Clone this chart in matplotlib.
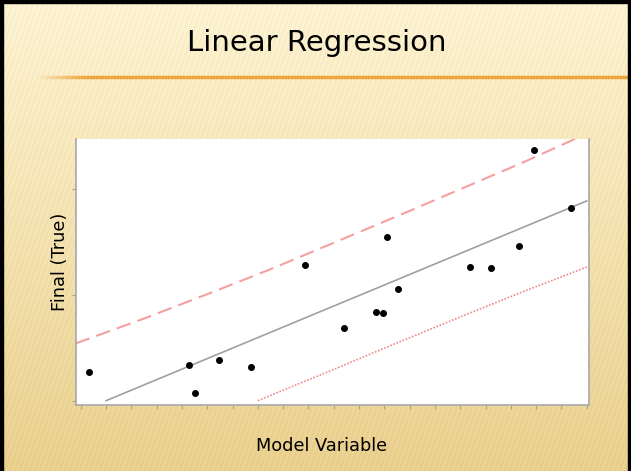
import numpy as np
import matplotlib
matplotlib.use("Agg")
import matplotlib.pyplot as plt
from matplotlib.collections import LineCollection

# data (arbitrary units, ticks unlabeled)
model_x = [0.33, 4.27, 4.52, 5.47, 6.73, 8.85, 10.39, 11.68, 11.94, 12.09, 12.53, 15.38, 16.21, 17.34, 17.92, 19.39]
final_y = [2.71, 3.40, 0.75, 3.87, 3.21, 12.83, 6.86, 8.34, 8.25, 15.42, 10.51, 12.61, 12.52, 14.62, 23.65, 18.18]

fit_x = [1.0, 20.0]
fit_y = [0.0, 18.85]

upper_x = [-0.2, 2.5, 5, 7.5, 10, 12.5, 15, 17.5, 20.1]
upper_y = [5.4, 7.75, 10.05, 12.4, 14.9, 17.4, 19.95, 22.5, 25.3]

lower_x = [7.0, 10, 12.5, 15, 17.5, 20.1]
lower_y = [0.0, 2.95, 5.45, 7.9, 10.3, 12.7]

x_ticks = list(range(0, 21))
y_ticks = [0, 10, 20]

W, H = 631, 471
fig = plt.figure(figsize=(W / 100, H / 100), dpi=100)

# slide background
bg = fig.add_axes([0, 0, 1, 1])
bg.set_xlim(0, W)
bg.set_ylim(H, 0)
bg.axis("off")
yy, xx = np.mgrid[0:H, 0:W]
t = (yy / H)[..., None]
top = np.array([253, 243, 210]) / 255
bot = np.array([234, 208, 142]) / 255
img = top * (1 - t) + bot * t
stripes = 0.014 * np.sin(2 * np.pi * (xx + 0.35 * yy) / 5.0)[..., None]
img = np.clip(img + stripes, 0, 1)
bg.imshow(img, extent=[0, W, H, 0], aspect="auto", zorder=0)

# orange rule under the title
xs = np.linspace(35, W, 200)
segs = [[(xs[i], 77), (xs[i + 1], 77)] for i in range(len(xs) - 1)]
alphas = np.clip((xs[:-1] - 35) / 50, 0, 1)
cols = [(0.93, 0.63, 0.2, a) for a in alphas]
bg.add_collection(LineCollection(segs, colors=cols, linewidths=2.5, zorder=1))

# dark frame
bg.add_patch(plt.Rectangle((0, 0), W, 3, color="black", zorder=2))
bg.add_patch(plt.Rectangle((0, 0), 3, H, color="black", zorder=2))
bg.add_patch(plt.Rectangle((W - 3, 0), 3, H, color="black", zorder=2))

bg.text(317, 43, "Linear Regression", fontsize=21, ha="center", va="center", color="black")
bg.text(322, 446, "Model Variable", fontsize=12.8, ha="center", va="center", color="black")
bg.text(60, 262, "Final (True)", fontsize=12.8, ha="center", va="center", rotation=90, color="black")

# the chart
ax = fig.add_axes([76 / W, (H - 405) / H, (589 - 76) / W, (405 - 139) / H])
ax.set_facecolor("white")
ax.plot(upper_x, upper_y, color="#f5a0a0", lw=1.5, dashes=(7, 3.5))
ax.plot(fit_x, fit_y, color="#a0a0a0", lw=1.2)
ax.plot(lower_x, lower_y, color="#f08a8a", lw=1.2, linestyle=(0, (1, 1)))
ax.plot(model_x, final_y, "o", color="black", ms=4)

ax.set_xlim(-0.19, 20.09)
ax.set_ylim(-0.41, 24.69)
ax.set_xticks(x_ticks)
ax.set_yticks(y_ticks)
ax.set_xticklabels([])
ax.set_yticklabels([])
ax.tick_params(direction="out", length=3, width=0.8, color="#a0a0a0")
for s in ["left", "bottom", "right"]:
    ax.spines[s].set_color("#a8a8a8")
    ax.spines[s].set_linewidth(1.2)
ax.spines["top"].set_visible(False)

fig.savefig("out.png", dpi=100)
